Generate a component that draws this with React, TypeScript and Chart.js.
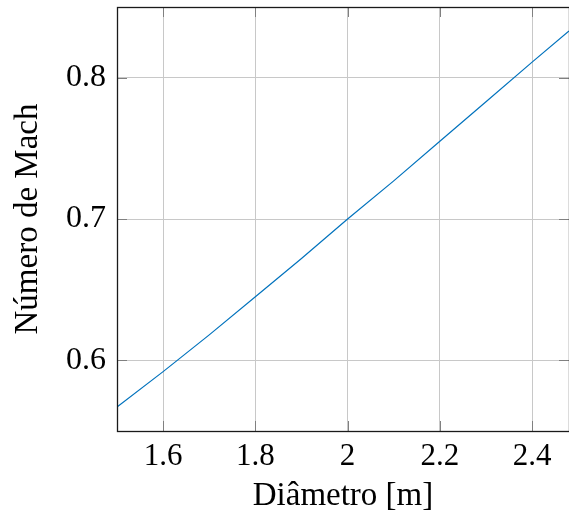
import React, { useEffect, useRef } from "react";
import { Chart, registerables } from "chart.js";
Chart.register(...registerables);

const diameters = [1.5, 1.6, 1.7, 1.8, 1.9, 2.0, 2.1, 2.2, 2.3, 2.4, 2.48];
const machNumbers = [0.567, 0.592, 0.618, 0.645, 0.672, 0.7, 0.727, 0.755, 0.783, 0.811, 0.833];
const xTicks = [1.6, 1.8, 2.0, 2.2, 2.4];
const yTicks = [0.6, 0.7, 0.8];
const xLabel = "Diâmetro [m]";
const yLabel = "Número de Mach";

const FONT = "'Liberation Serif', 'DejaVu Serif', serif";

const fmt = (v: number) => String(Number(v.toFixed(2)));

const framePlugin = {
  id: "frame",
  afterDraw(chart: any) {
    const { ctx, chartArea, scales } = chart;
    const { left, right, top, bottom } = chartArea;
    ctx.save();
    ctx.strokeStyle = "#808080";
    ctx.lineWidth = 1;
    ctx.beginPath();
    for (const v of xTicks) {
      const px = Math.round(scales.x.getPixelForValue(v)) + 0.5;
      ctx.moveTo(px, top);
      ctx.lineTo(px, top + 10);
      ctx.moveTo(px, bottom);
      ctx.lineTo(px, bottom - 10);
    }
    for (const v of yTicks) {
      const py = Math.round(scales.y.getPixelForValue(v)) + 0.5;
      ctx.moveTo(left, py);
      ctx.lineTo(left + 10, py);
      ctx.moveTo(right, py);
      ctx.lineTo(right - 10, py);
    }
    ctx.stroke();
    ctx.strokeStyle = "#1a1a1a";
    ctx.lineWidth = 1.3;
    ctx.strokeRect(Math.round(left) + 0.5, Math.round(top) + 0.5, right - left, bottom - top);
    ctx.restore();
  },
};

export default function App() {
  const ref = useRef<HTMLCanvasElement | null>(null);
  useEffect(() => {
    if (!ref.current) return;
    const chart = new Chart(ref.current, {
      type: "line",
      data: {
        datasets: [
          {
            data: diameters.map((d, i) => ({ x: d, y: machNumbers[i] })),
            borderColor: "#0072bd",
            borderWidth: 1.2,
            pointRadius: 0,
            tension: 0,
            fill: false,
          },
        ],
      },
      options: {
        animation: false,
        responsive: false,
        devicePixelRatio: 1,
        layout: { padding: { left: 0, right: 0, top: 7, bottom: 0 } },
        plugins: { legend: { display: false }, tooltip: { enabled: false } },
        scales: {
          x: {
            type: "linear",
            min: 1.5,
            max: 2.48,
            afterBuildTicks: (s: any) => {
              s.ticks = xTicks.map((v) => ({ value: v }));
            },
            afterFit: (s: any) => {
              s.height = 81;
              s.paddingLeft = 0;
              s.paddingRight = 0;
            },
            grid: { color: "#c8c8c8", drawTicks: false, lineWidth: 1 },
            border: { display: false },
            ticks: {
              padding: 7,
              color: "#000",
              font: { family: FONT, size: 31 },
              callback: (v: any) => fmt(Number(v)),
              maxRotation: 0,
            },
            title: {
              display: true,
              text: xLabel,
              color: "#000",
              font: { family: FONT, size: 33, lineHeight: "24px" },
            },
          },
          y: {
            type: "linear",
            min: 0.55,
            max: 0.85,
            afterBuildTicks: (s: any) => {
              s.ticks = yTicks.map((v) => ({ value: v }));
            },
            afterFit: (s: any) => {
              s.width = 117;
              s.paddingTop = 0;
              s.paddingBottom = 0;
            },
            grid: { color: "#c8c8c8", drawTicks: false, lineWidth: 1 },
            border: { display: false },
            ticks: {
              padding: 11,
              color: "#000",
              font: { family: FONT, size: 32 },
              callback: (v: any) => fmt(Number(v)),
            },
            title: {
              display: true,
              text: yLabel,
              color: "#000",
              font: { family: FONT, size: 33, lineHeight: "48px" },
            },
          },
        },
      },
      plugins: [framePlugin],
    });
    return () => chart.destroy();
  }, []);
  return (
    <div style={{ position: "absolute", left: 0, top: 0, width: 569, height: 512, background: "#fff" }}>
      <canvas ref={ref} width={569} height={512} />
    </div>
  );
}
